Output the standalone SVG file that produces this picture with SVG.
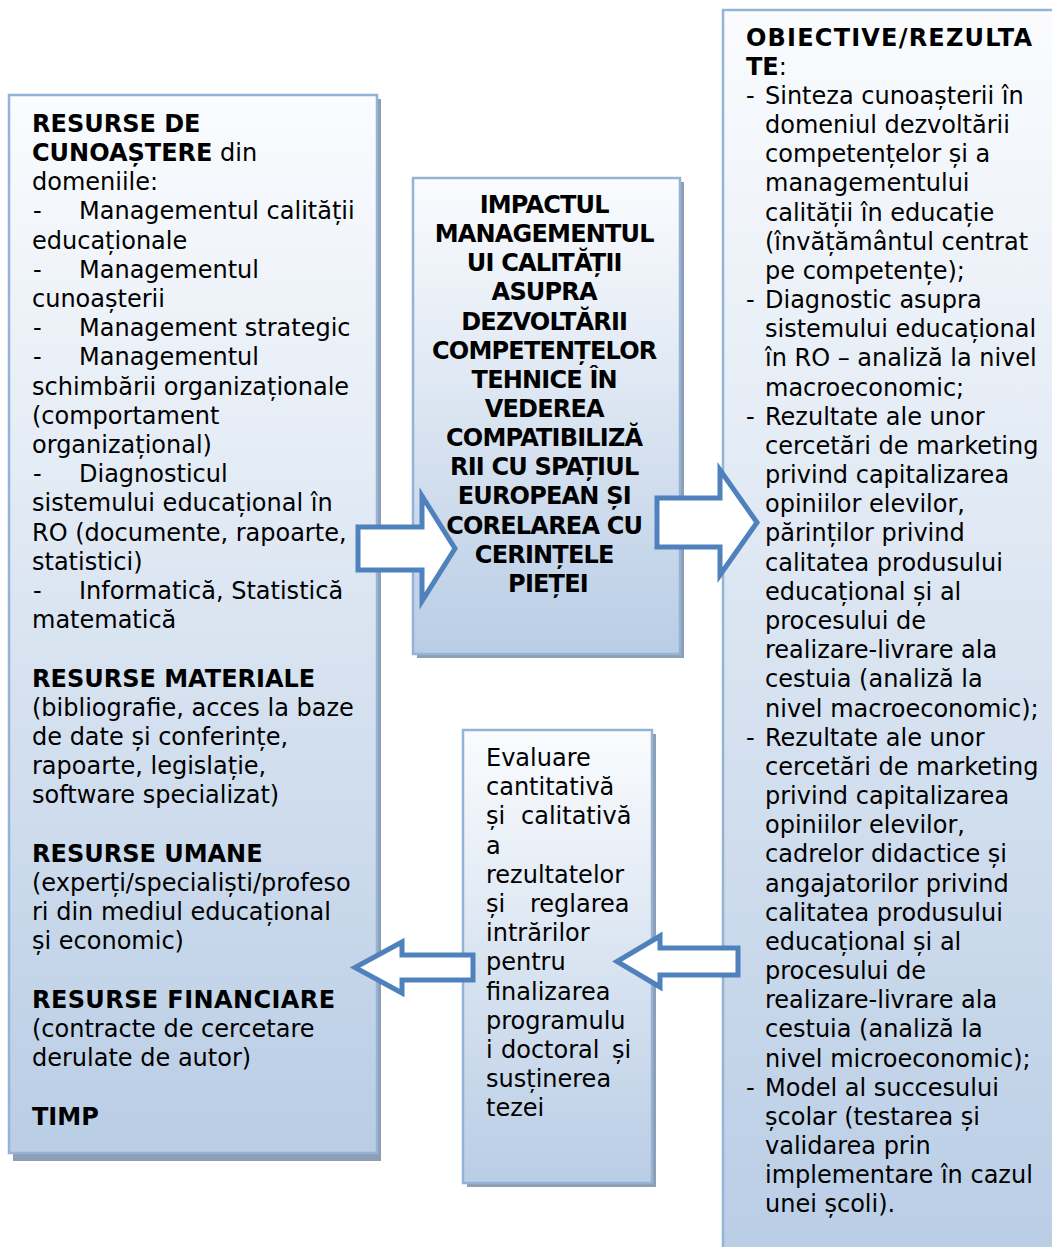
<svg xmlns="http://www.w3.org/2000/svg" width="1052" height="1247" viewBox="0 0 1052 1247">
  <defs>
    <linearGradient id="boxFill" x1="0" y1="0" x2="0" y2="1">
      <stop offset="0" stop-color="#fafcfe"/>
      <stop offset="0.15" stop-color="#f1f5fa"/>
      <stop offset="1" stop-color="#b9cde5"/>
    </linearGradient>
    <style>
      .box { fill: url(#boxFill); stroke: #95b3d7; stroke-width: 2.5; }
      .shadow { fill: #8e9eb4; }
      .arrow { fill: #ffffff; stroke: #4f81bd; stroke-width: 5; stroke-linejoin: miter; }
      text { font-family: "DejaVu Sans", Verdana, sans-serif; font-size: 24px; fill: #000000; }
      .b { font-weight: bold; }
      .c { text-anchor: middle; letter-spacing: -0.8px; }
    </style>
  </defs>

  <rect width="1052" height="1247" fill="#ffffff"/>

  <!-- Resources (inputs) -->
  <g id="node-resurse">
    <rect class="shadow" x="13" y="99" width="368" height="1062"/>
    <rect class="box" x="9" y="95" width="368" height="1058"/>
    <text y="131.7">
      <tspan x="32" class="b">RESURSE DE</tspan>
      <tspan x="32" dy="29.2"><tspan class="b">CUNOAȘTERE</tspan> din</tspan>
      <tspan x="32" dy="29.2">domeniile:</tspan>
      <tspan x="33" dy="29.2">-</tspan><tspan x="79">Managementul calității</tspan>
      <tspan x="32" dy="29.2">educaționale</tspan>
      <tspan x="33" dy="29.2">-</tspan><tspan x="79">Managementul</tspan>
      <tspan x="32" dy="29.2">cunoașterii</tspan>
      <tspan x="33" dy="29.2">-</tspan><tspan x="79">Management strategic</tspan>
      <tspan x="33" dy="29.2">-</tspan><tspan x="79">Managementul</tspan>
      <tspan x="32" dy="29.2">schimbării organizaționale</tspan>
      <tspan x="32" dy="29.2">(comportament</tspan>
      <tspan x="32" dy="29.2">organizațional)</tspan>
      <tspan x="33" dy="29.2">-</tspan><tspan x="79">Diagnosticul</tspan>
      <tspan x="32" dy="29.2">sistemului educațional în</tspan>
      <tspan x="32" dy="29.2">RO (documente, rapoarte,</tspan>
      <tspan x="32" dy="29.2">statistici)</tspan>
      <tspan x="33" dy="29.2">-</tspan><tspan x="79">Informatică, Statistică</tspan>
      <tspan x="32" dy="29.2">matematică</tspan>
      <tspan x="32" dy="58.4" class="b">RESURSE MATERIALE</tspan>
      <tspan x="32" dy="29.2">(bibliografie, acces la baze</tspan>
      <tspan x="32" dy="29.2">de date și conferințe,</tspan>
      <tspan x="32" dy="29.2">rapoarte, legislație,</tspan>
      <tspan x="32" dy="29.2">software specializat)</tspan>
      <tspan x="32" dy="58.4" class="b">RESURSE UMANE</tspan>
      <tspan x="32" dy="29.2">(experți/specialiști/profeso</tspan>
      <tspan x="32" dy="29.2">ri din mediul educațional</tspan>
      <tspan x="32" dy="29.2">și economic)</tspan>
      <tspan x="32" dy="58.4" class="b" letter-spacing="0.4">RESURSE FINANCIARE</tspan>
      <tspan x="32" dy="29.2">(contracte de cercetare</tspan>
      <tspan x="32" dy="29.2">derulate de autor)</tspan>
      <tspan x="32" dy="58.4" class="b">TIMP</tspan>
    </text>
  </g>

  <!-- Central theme -->
  <g id="node-impact">
    <rect class="shadow" x="417" y="182" width="267" height="476"/>
    <rect class="box" x="413" y="178" width="267" height="476"/>
    <text class="b c" y="213">
      <tspan x="548">IMPACTUL</tspan>
      <tspan x="548" dy="29.15">MANAGEMENTUL</tspan>
      <tspan x="548" dy="29.15">UI CALITĂȚII</tspan>
      <tspan x="548" dy="29.15">ASUPRA</tspan>
      <tspan x="548" dy="29.15">DEZVOLTĂRII</tspan>
      <tspan x="548" dy="29.15">COMPETENȚELOR</tspan>
      <tspan x="548" dy="29.15">TEHNICE ÎN</tspan>
      <tspan x="548" dy="29.15">VEDEREA</tspan>
      <tspan x="548" dy="29.15">COMPATIBILIZĂ</tspan>
      <tspan x="548" dy="29.15">RII CU SPAȚIUL</tspan>
      <tspan x="548" dy="29.15">EUROPEAN ȘI</tspan>
      <tspan x="548" dy="29.15">CORELAREA CU</tspan>
      <tspan x="548" dy="29.15">CERINȚELE</tspan>
      <tspan x="548" dy="29.15">PIEȚEI</tspan>
    </text>
  </g>

  <!-- Evaluation / feedback -->
  <g id="node-evaluare">
    <rect class="shadow" x="467" y="734" width="189" height="453"/>
    <rect class="box" x="463" y="730" width="189" height="453"/>
    <text y="766">
      <tspan x="486">Evaluare</tspan>
      <tspan x="486" dy="29.2">cantitativă</tspan>
      <tspan x="486" dy="29.2">și</tspan><tspan x="521">calitativă</tspan>
      <tspan x="486" dy="29.2">a</tspan>
      <tspan x="486" dy="29.2">rezultatelor</tspan>
      <tspan x="486" dy="29.2">și</tspan><tspan x="530">reglarea</tspan>
      <tspan x="486" dy="29.2">intrărilor</tspan>
      <tspan x="486" dy="29.2">pentru</tspan>
      <tspan x="486" dy="29.2">finalizarea</tspan>
      <tspan x="486" dy="29.2">programulu</tspan>
      <tspan x="486" dy="29.2">i</tspan><tspan x="501">doctoral</tspan><tspan x="612">și</tspan>
      <tspan x="486" dy="29.2">susținerea</tspan>
      <tspan x="486" dy="29.2">tezei</tspan>
    </text>
  </g>

  <!-- Objectives / results -->
  <g id="node-obiective">
    <rect class="shadow" x="727" y="14" width="340" height="1250"/>
    <rect class="box" x="723" y="10" width="340" height="1250"/>
    <text y="45.5">
      <tspan x="746" class="b" letter-spacing="1.2">OBIECTIVE/REZULTA</tspan>
      <tspan x="746" dy="29.175"><tspan class="b">TE</tspan>:</tspan>
      <tspan x="746" dy="29.175">-</tspan><tspan x="765">Sinteza cunoașterii în</tspan>
      <tspan x="765" dy="29.175">domeniul dezvoltării</tspan>
      <tspan x="765" dy="29.175">competențelor și a</tspan>
      <tspan x="765" dy="29.175">managementului</tspan>
      <tspan x="765" dy="29.175">calității în educație</tspan>
      <tspan x="765" dy="29.175">(învățământul centrat</tspan>
      <tspan x="765" dy="29.175">pe competențe);</tspan>
      <tspan x="746" dy="29.175">-</tspan><tspan x="765">Diagnostic asupra</tspan>
      <tspan x="765" dy="29.175">sistemului educațional</tspan>
      <tspan x="765" dy="29.175">în RO – analiză la nivel</tspan>
      <tspan x="765" dy="29.175">macroeconomic;</tspan>
      <tspan x="746" dy="29.175">-</tspan><tspan x="765">Rezultate ale unor</tspan>
      <tspan x="765" dy="29.175">cercetări de marketing</tspan>
      <tspan x="765" dy="29.175">privind capitalizarea</tspan>
      <tspan x="765" dy="29.175">opiniilor elevilor,</tspan>
      <tspan x="765" dy="29.175">părinților privind</tspan>
      <tspan x="765" dy="29.175">calitatea produsului</tspan>
      <tspan x="765" dy="29.175">educațional și al</tspan>
      <tspan x="765" dy="29.175">procesului de</tspan>
      <tspan x="765" dy="29.175">realizare-livrare ala</tspan>
      <tspan x="765" dy="29.175">cestuia (analiză la</tspan>
      <tspan x="765" dy="29.175">nivel macroeconomic);</tspan>
      <tspan x="746" dy="29.175">-</tspan><tspan x="765">Rezultate ale unor</tspan>
      <tspan x="765" dy="29.175">cercetări de marketing</tspan>
      <tspan x="765" dy="29.175">privind capitalizarea</tspan>
      <tspan x="765" dy="29.175">opiniilor elevilor,</tspan>
      <tspan x="765" dy="29.175">cadrelor didactice și</tspan>
      <tspan x="765" dy="29.175">angajatorilor privind</tspan>
      <tspan x="765" dy="29.175">calitatea produsului</tspan>
      <tspan x="765" dy="29.175">educațional și al</tspan>
      <tspan x="765" dy="29.175">procesului de</tspan>
      <tspan x="765" dy="29.175">realizare-livrare ala</tspan>
      <tspan x="765" dy="29.175">cestuia (analiză la</tspan>
      <tspan x="765" dy="29.175">nivel microeconomic);</tspan>
      <tspan x="746" dy="29.175">-</tspan><tspan x="765">Model al succesului</tspan>
      <tspan x="765" dy="29.175">școlar (testarea și</tspan>
      <tspan x="765" dy="29.175">validarea prin</tspan>
      <tspan x="765" dy="29.175">implementare în cazul</tspan>
      <tspan x="765" dy="29.175">unei școli).</tspan>
    </text>
  </g>

  <!-- Block arrows between the boxes -->
  <g id="connectors">
    <polygon class="arrow" points="358,527 422,527 422,496 455,548.5 422,601 422,570 358,570"/>
    <polygon class="arrow" points="657,498 720,498 720,470 757,522.5 720,575 720,547 657,547"/>
    <polygon class="arrow" points="473,955 402,955 402,942 355,967.5 402,993 402,980 473,980"/>
    <polygon class="arrow" points="738,948 660,948 660,936 617,961.5 660,987 660,975 738,975"/>
  </g>
</svg>
